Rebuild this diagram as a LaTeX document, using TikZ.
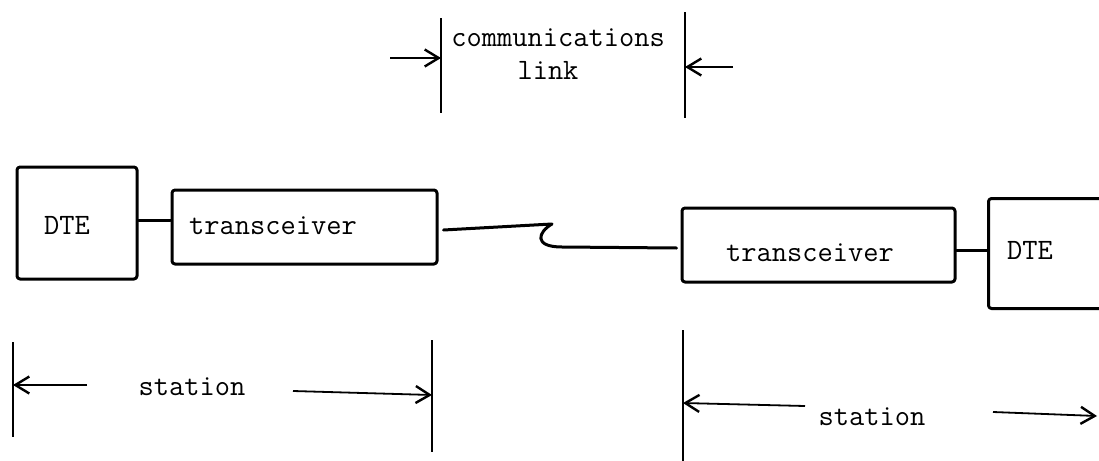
\documentclass[tikz,border=0pt]{standalone}
\usetikzlibrary{arrows.meta}
\tikzset{
  pen/.style={line width=1.5pt, line cap=round, line join=round},
  unit/.style={pen, draw, rounded corners=1.5pt, inner sep=0pt},
  lbl/.style={font=\ttfamily\fontsize{14.8}{16}\selectfont, inner sep=0pt},
  tick/.style={line width=1.2pt},
  dim/.style={line width=0.9pt, -{Straight Barb[length=7pt, width=8.5pt, line width=1.2pt]}},
}
\begin{document}
\begin{tikzpicture}[x=0.5pt, y=-0.5pt]
\useasboundingbox (0,0) rectangle (1099,461);
\clip (0,0) rectangle (1099,461);

% units
\node[unit, minimum width=60pt, minimum height=56pt] (dteL) at (77,223) {};
\node[unit, minimum width=132.5pt, minimum height=37pt] (trL) at (304.5,227) {};
\node[unit, minimum width=136.5pt, minimum height=37pt] (trR) at (818.5,245) {};
\node[unit, minimum width=62pt, minimum height=55pt, anchor=north west] (dteR) at (987,197) {};

\node[lbl] (tDteL) at (67,225) {DTE};
\node[lbl] (tTrL)  at (273,226) {transceiver};
\node[lbl] (tTrR)  at (810,253) {transceiver};
\node[lbl] (tDteR) at (1030,250) {DTE};

% short cables between DTE and transceiver
\draw[pen] (dteL.east |- 0,220) -- (trL.west |- 0,220);
\draw[pen] (trR.east |- 0,250) -- (dteR.west |- 0,250);

% the communications link between the two transceivers
\coordinate (kinkA) at (552,224);
\coordinate (kinkB) at (562,247);
\draw[pen] ([xshift=2.5pt]trL.east |- 0,230) -- (kinkA)
  .. controls (538,232) and (533,247) .. (kinkB)
  -- ([xshift=-2pt]trR.west |- 0,248);

% extent of the communications link
\coordinate (cl1) at (441,18);  \coordinate (cl2) at (441,113);
\coordinate (cr1) at (685,12);  \coordinate (cr2) at (685,118);
\draw[tick] (cl1) -- (cl2);
\draw[tick] (cr1) -- (cr2);
\coordinate (ca) at (390,58);
\coordinate (cb) at (733,67);
\draw[dim] (ca) -- (cl1 |- ca);
\draw[dim] (cb) -- (cr1 |- cb);
\node[lbl, anchor=west] (tComm) at (451,38) {communications};
\node[lbl] (tLink) at (548,70) {link};

% extent of the left station
\coordinate (sl1) at (13,342);  \coordinate (sl2) at (13,437);
\coordinate (sr1) at (432,340); \coordinate (sr2) at (432,452);
\draw[tick] (sl1) -- (sl2);
\draw[tick] (sr1) -- (sr2);
\node[lbl] (tStL) at (192,387) {station};
\draw[dim] (87,385) -- (sl1 |- 0,385);
\draw[dim] (293,391) -- (sr1 |- 0,395);

% extent of the right station
\coordinate (tl1) at (683,330); \coordinate (tl2) at (683,461);
\draw[tick] (tl1) -- (tl2);
\node[lbl] (tStR) at (872,417) {station};
\draw[dim] (805,406) -- (tl1 |- 0,403);
\draw[dim] (993,412) -- (1097,416);
\end{tikzpicture}
\end{document}
